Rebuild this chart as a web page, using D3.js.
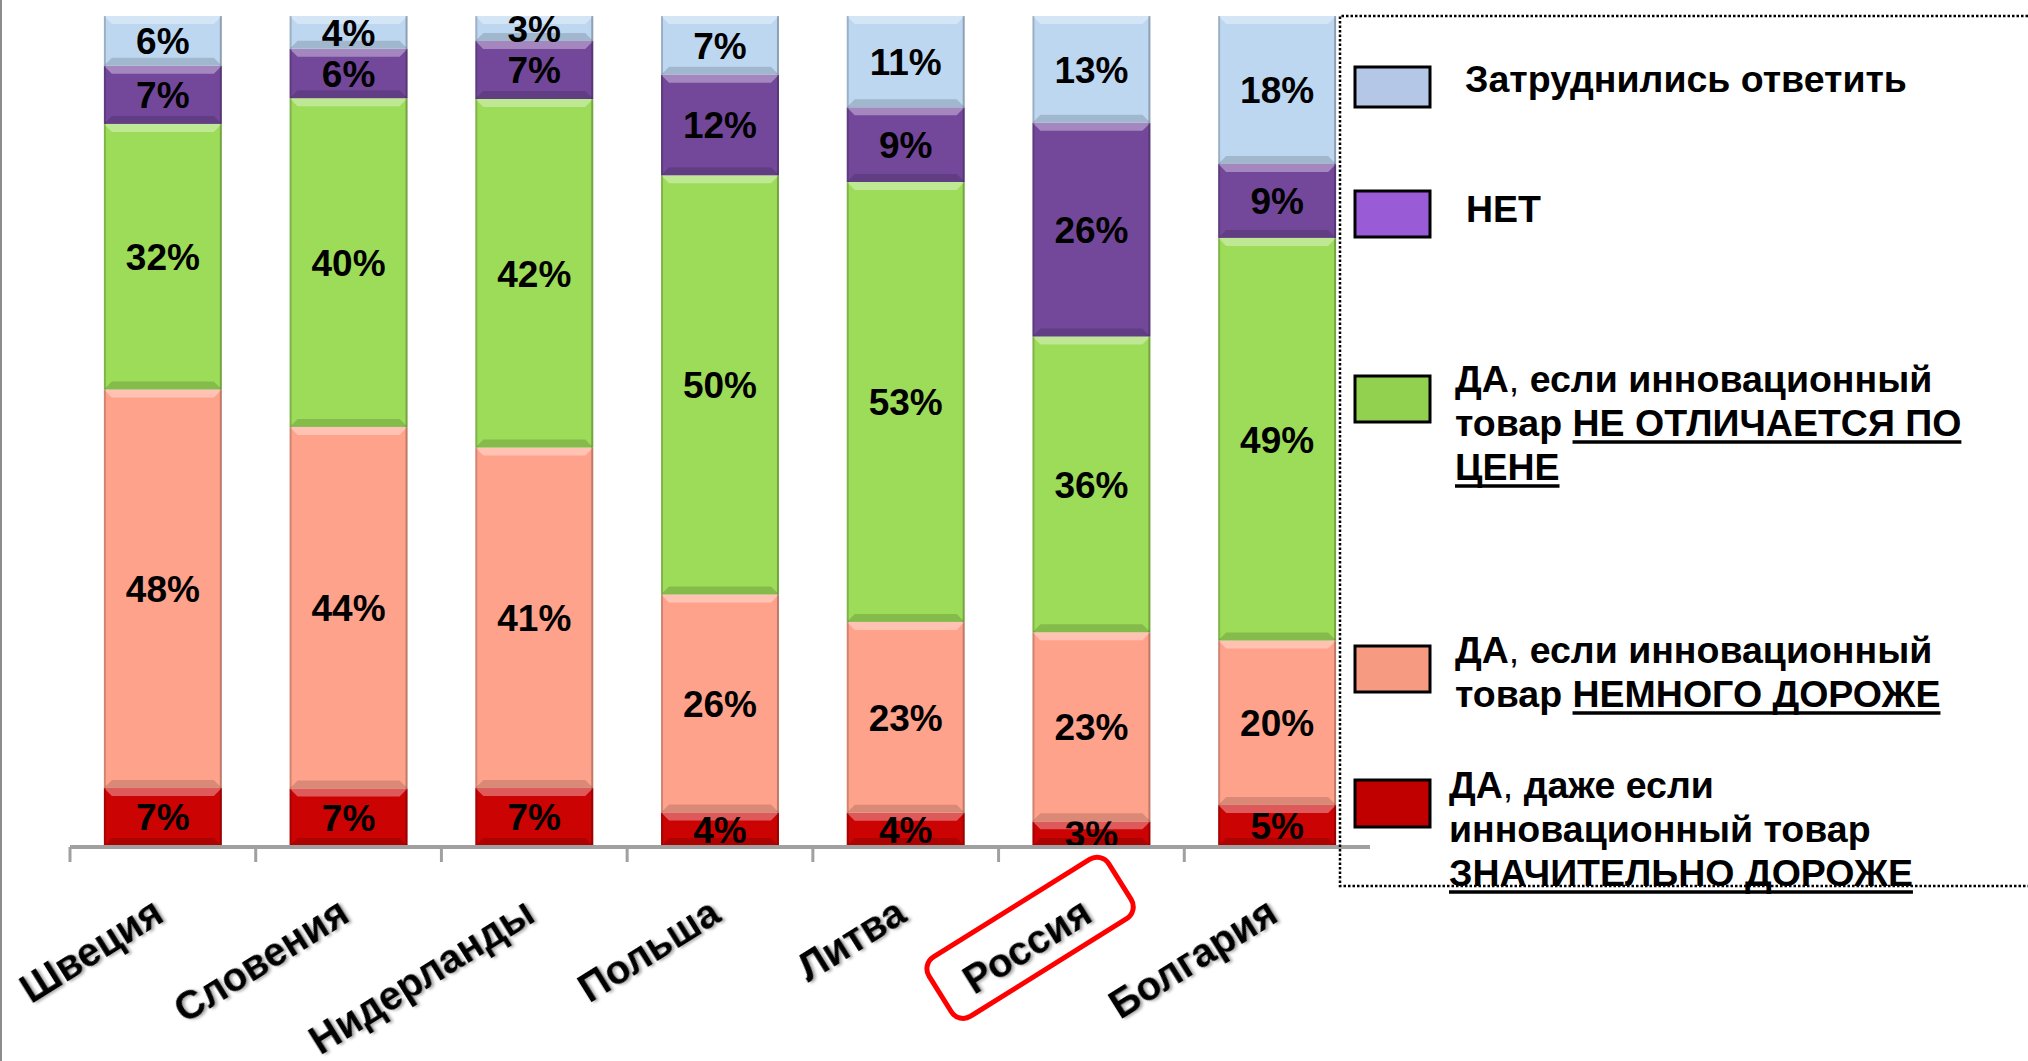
<!DOCTYPE html>
<html>
<head>
<meta charset="utf-8">
<script src="https://cdn.jsdelivr.net/npm/d3@7"></script>
<style>
  html, body { margin: 0; padding: 0; background: #fff; }
  svg { display: block; }
  text { font-family: "Liberation Sans", Arial, sans-serif; }
</style>
</head>
<body>
<svg id="chart" width="2028" height="1061"></svg>
<script>
// data (bottom to top in each bar)
var categories = ["Швеция", "Словения", "Нидерланды", "Польша", "Литва", "Россия", "Болгария"];
var muchDearer = [7, 7, 7, 4, 4, 3, 5];
var slightlyDearer = [48, 44, 41, 26, 23, 23, 20];
var samePrice = [32, 40, 42, 50, 53, 36, 49];
var noAnswer = [7, 6, 7, 12, 9, 26, 9];
var dontKnow = [6, 4, 3, 7, 11, 13, 18];

var seriesKeys = ["muchDearer", "slightlyDearer", "samePrice", "noAnswer", "dontKnow"];
var highlighted = "Россия";

// legend, top to bottom; each line is a list of [text, bold, underline]
var legendItems = [
  {key: "dontKnow", lines: [[["Затруднились ответить", true, false]]]},
  {key: "noAnswer", lines: [[["НЕТ", true, false]]]},
  {key: "samePrice", lines: [
    [["ДА", true, false], [", ", false, false], ["если инновационный", true, false]],
    [["товар ", true, false], ["НЕ ОТЛИЧАЕТСЯ ПО", true, true]],
    [["ЦЕНЕ", true, true]]
  ]},
  {key: "slightlyDearer", lines: [
    [["ДА", true, false], [", ", false, false], ["если инновационный", true, false]],
    [["товар ", true, false], ["НЕМНОГО ДОРОЖЕ", true, true]]
  ]},
  {key: "muchDearer", lines: [
    [["ДА", true, false], [", ", false, false], ["даже если", true, false]],
    [["инновационный товар", true, false]],
    [["ЗНАЧИТЕЛЬНО ДОРОЖЕ", true, true]]
  ]}
];

var barColor = {
  muchDearer: "#cc0303",
  slightlyDearer: "#ffa28b",
  samePrice: "#9cdc59",
  noAnswer: "#73489b",
  dontKnow: "#bed7f1"
};
var legendColor = {
  muchDearer: "#c00000",
  slightlyDearer: "#f79a82",
  samePrice: "#92d050",
  noAnswer: "#9a5bd6",
  dontKnow: "#b4c7e7"
};

var table = categories.map(function(c, i) {
  return {
    cat: c,
    muchDearer: muchDearer[i],
    slightlyDearer: slightlyDearer[i],
    samePrice: samePrice[i],
    noAnswer: noAnswer[i],
    dontKnow: dontKnow[i]
  };
});

var svg = d3.select("#chart");

var x = d3.scaleBand()
    .domain(categories)
    .range([70, 1370])
    .paddingInner(0.365)
    .paddingOuter(0.1825);

var y = d3.scaleLinear()
    .domain([0, 1])
    .range([846, 16]);

// 100% stacked, like excel does it
var stack = d3.stack()
    .keys(seriesKeys)
    .offset(d3.stackOffsetExpand);
var series = stack(table);

var defs = svg.append("defs");
var shadow = defs.append("filter").attr("id", "shadow")
    .attr("x", "-10%").attr("y", "-30%").attr("width", "130%").attr("height", "160%");
shadow.append("feDropShadow")
    .attr("dx", 2).attr("dy", 2)
    .attr("stdDeviation", 1.5)
    .attr("flood-color", "#000")
    .attr("flood-opacity", 0.35);

// left border of the slide
svg.append("line")
    .attr("x1", 1).attr("x2", 1)
    .attr("y1", 0).attr("y2", 1061)
    .attr("stroke", "#8c8c8c")
    .attr("stroke-width", 2);

// bars
var layer = svg.append("g").selectAll("g")
    .data(series)
    .enter()
    .append("g")
    .attr("class", function(s) { return "layer " + s.key; });

var seg = layer.selectAll("g")
    .data(function(s) { return s.map(function(d) { return {key: s.key, d: d}; }); })
    .enter()
    .append("g");

seg.each(function(o) {
  var g = d3.select(this);
  var x0 = x(o.d.data.cat), w = x.bandwidth();
  var top = y(o.d[1]), bot = y(o.d[0]);
  var h = bot - top;
  var b = Math.min(8, h / 3);

  g.append("rect")
    .attr("x", x0).attr("y", top)
    .attr("width", w).attr("height", h)
    .attr("fill", barColor[o.key]);

  // bevel: light top, dark bottom, dark sides
  g.append("path")
    .attr("d", "M" + x0 + "," + top + "H" + (x0 + w) + "L" + (x0 + w - b) + "," + (top + b) + "H" + (x0 + b) + "Z")
    .attr("fill", "#fff")
    .attr("opacity", 0.35);
  g.append("path")
    .attr("d", "M" + x0 + "," + bot + "H" + (x0 + w) + "L" + (x0 + w - b) + "," + (bot - b) + "H" + (x0 + b) + "Z")
    .attr("fill", "#000")
    .attr("opacity", 0.15);
  g.append("rect")
    .attr("x", x0).attr("y", top)
    .attr("width", 2).attr("height", h)
    .attr("fill", "#000").attr("opacity", 0.18);
  g.append("rect")
    .attr("x", x0 + w - 2).attr("y", top)
    .attr("width", 2).attr("height", h)
    .attr("fill", "#000").attr("opacity", 0.25);
});

// value labels
seg.append("text")
    .attr("x", function(o) { return x(o.d.data.cat) + x.bandwidth() / 2; })
    .attr("y", function(o) { return (y(o.d[0]) + y(o.d[1])) / 2; })
    .attr("dy", "0.36em")
    .attr("text-anchor", "middle")
    .attr("font-size", 37)
    .attr("font-weight", "bold")
    .attr("fill", "#000")
    .text(function(o) { return o.d.data[o.key] + "%"; });

// category axis
var axis = svg.append("g");
axis.append("line")
    .attr("x1", 70).attr("x2", 1370)
    .attr("y1", 847).attr("y2", 847)
    .attr("stroke", "#a0a0a0")
    .attr("stroke-width", 4);

var tickPos = categories.map(function(c) { return x(c) - x.step() * x.paddingInner() / 2; });
axis.selectAll(".tick")
    .data(tickPos)
    .enter()
    .append("line")
    .attr("class", "tick")
    .attr("x1", function(d) { return d; })
    .attr("x2", function(d) { return d; })
    .attr("y1", 847).attr("y2", 862)
    .attr("stroke", "#a0a0a0")
    .attr("stroke-width", 3);

var angle = -32;
var labels = axis.selectAll(".cat")
    .data(categories)
    .enter()
    .append("g")
    .attr("class", "cat")
    .attr("transform", function(c) {
      return "translate(" + (x(c) + x.bandwidth() / 2 + 3) + ",920) rotate(" + angle + ")";
    });

labels.filter(function(c) { return c === highlighted; })
    .append("rect")
    .attr("class", "hl")
    .attr("fill", "none")
    .attr("stroke", "#ff0000")
    .attr("stroke-width", 5)
    .attr("rx", 14).attr("ry", 14);

labels.append("text")
    .attr("text-anchor", "end")
    .attr("font-size", 40)
    .attr("font-weight", "bold")
    .attr("fill", "#000")
    .attr("filter", "url(#shadow)")
    .text(function(c) { return c; });

// box round the highlighted country, sized from its label
labels.filter(function(c) { return c === highlighted; }).each(function() {
  var g = d3.select(this);
  var bb = g.select("text").node().getBBox();
  var cx = bb.x + bb.width / 2 + 7, cy = bb.y + bb.height / 2 - 4;
  g.select("rect.hl")
    .attr("x", cx - 106).attr("y", cy - 36)
    .attr("width", 212).attr("height", 70);
});

// legend
var legend = svg.append("g");
legend.append("path")
    .attr("d", "M2028,16H1340V886H2028")
    .attr("fill", "none")
    .attr("stroke", "#000")
    .attr("stroke-width", 2.5)
    .attr("stroke-dasharray", "2.5,2");

var swatchTop = [67, 191, 376, 646, 780];
var swatchH = [40, 46, 46, 46, 47];
var textX = [1465, 1466, 1455, 1455, 1449];
var firstBaseline = [92, 222, 392, 663, 798];
var lineGap = 44;

legendItems.forEach(function(item, i) {
  legend.append("rect")
    .attr("x", 1355).attr("y", swatchTop[i])
    .attr("width", 75).attr("height", swatchH[i])
    .attr("fill", legendColor[item.key])
    .attr("stroke", "#000")
    .attr("stroke-width", 3);

  item.lines.forEach(function(parts, j) {
    var t = legend.append("text")
      .attr("x", textX[i])
      .attr("y", firstBaseline[i] + j * lineGap)
      .attr("font-size", 37.5)
      .attr("fill", "#000");
    parts.forEach(function(p) {
      var ts = t.append("tspan")
        .attr("font-weight", p[1] ? "bold" : "normal")
        .text(p[0]);
      if (p[2]) {
        var bb = ts.node().getBBox();
        legend.append("line")
          .attr("x1", bb.x).attr("x2", bb.x + bb.width)
          .attr("y1", firstBaseline[i] + j * lineGap + 6)
          .attr("y2", firstBaseline[i] + j * lineGap + 6)
          .attr("stroke", "#000")
          .attr("stroke-width", 3.5);
      }
    });
  });
});
</script>
</body>
</html>
